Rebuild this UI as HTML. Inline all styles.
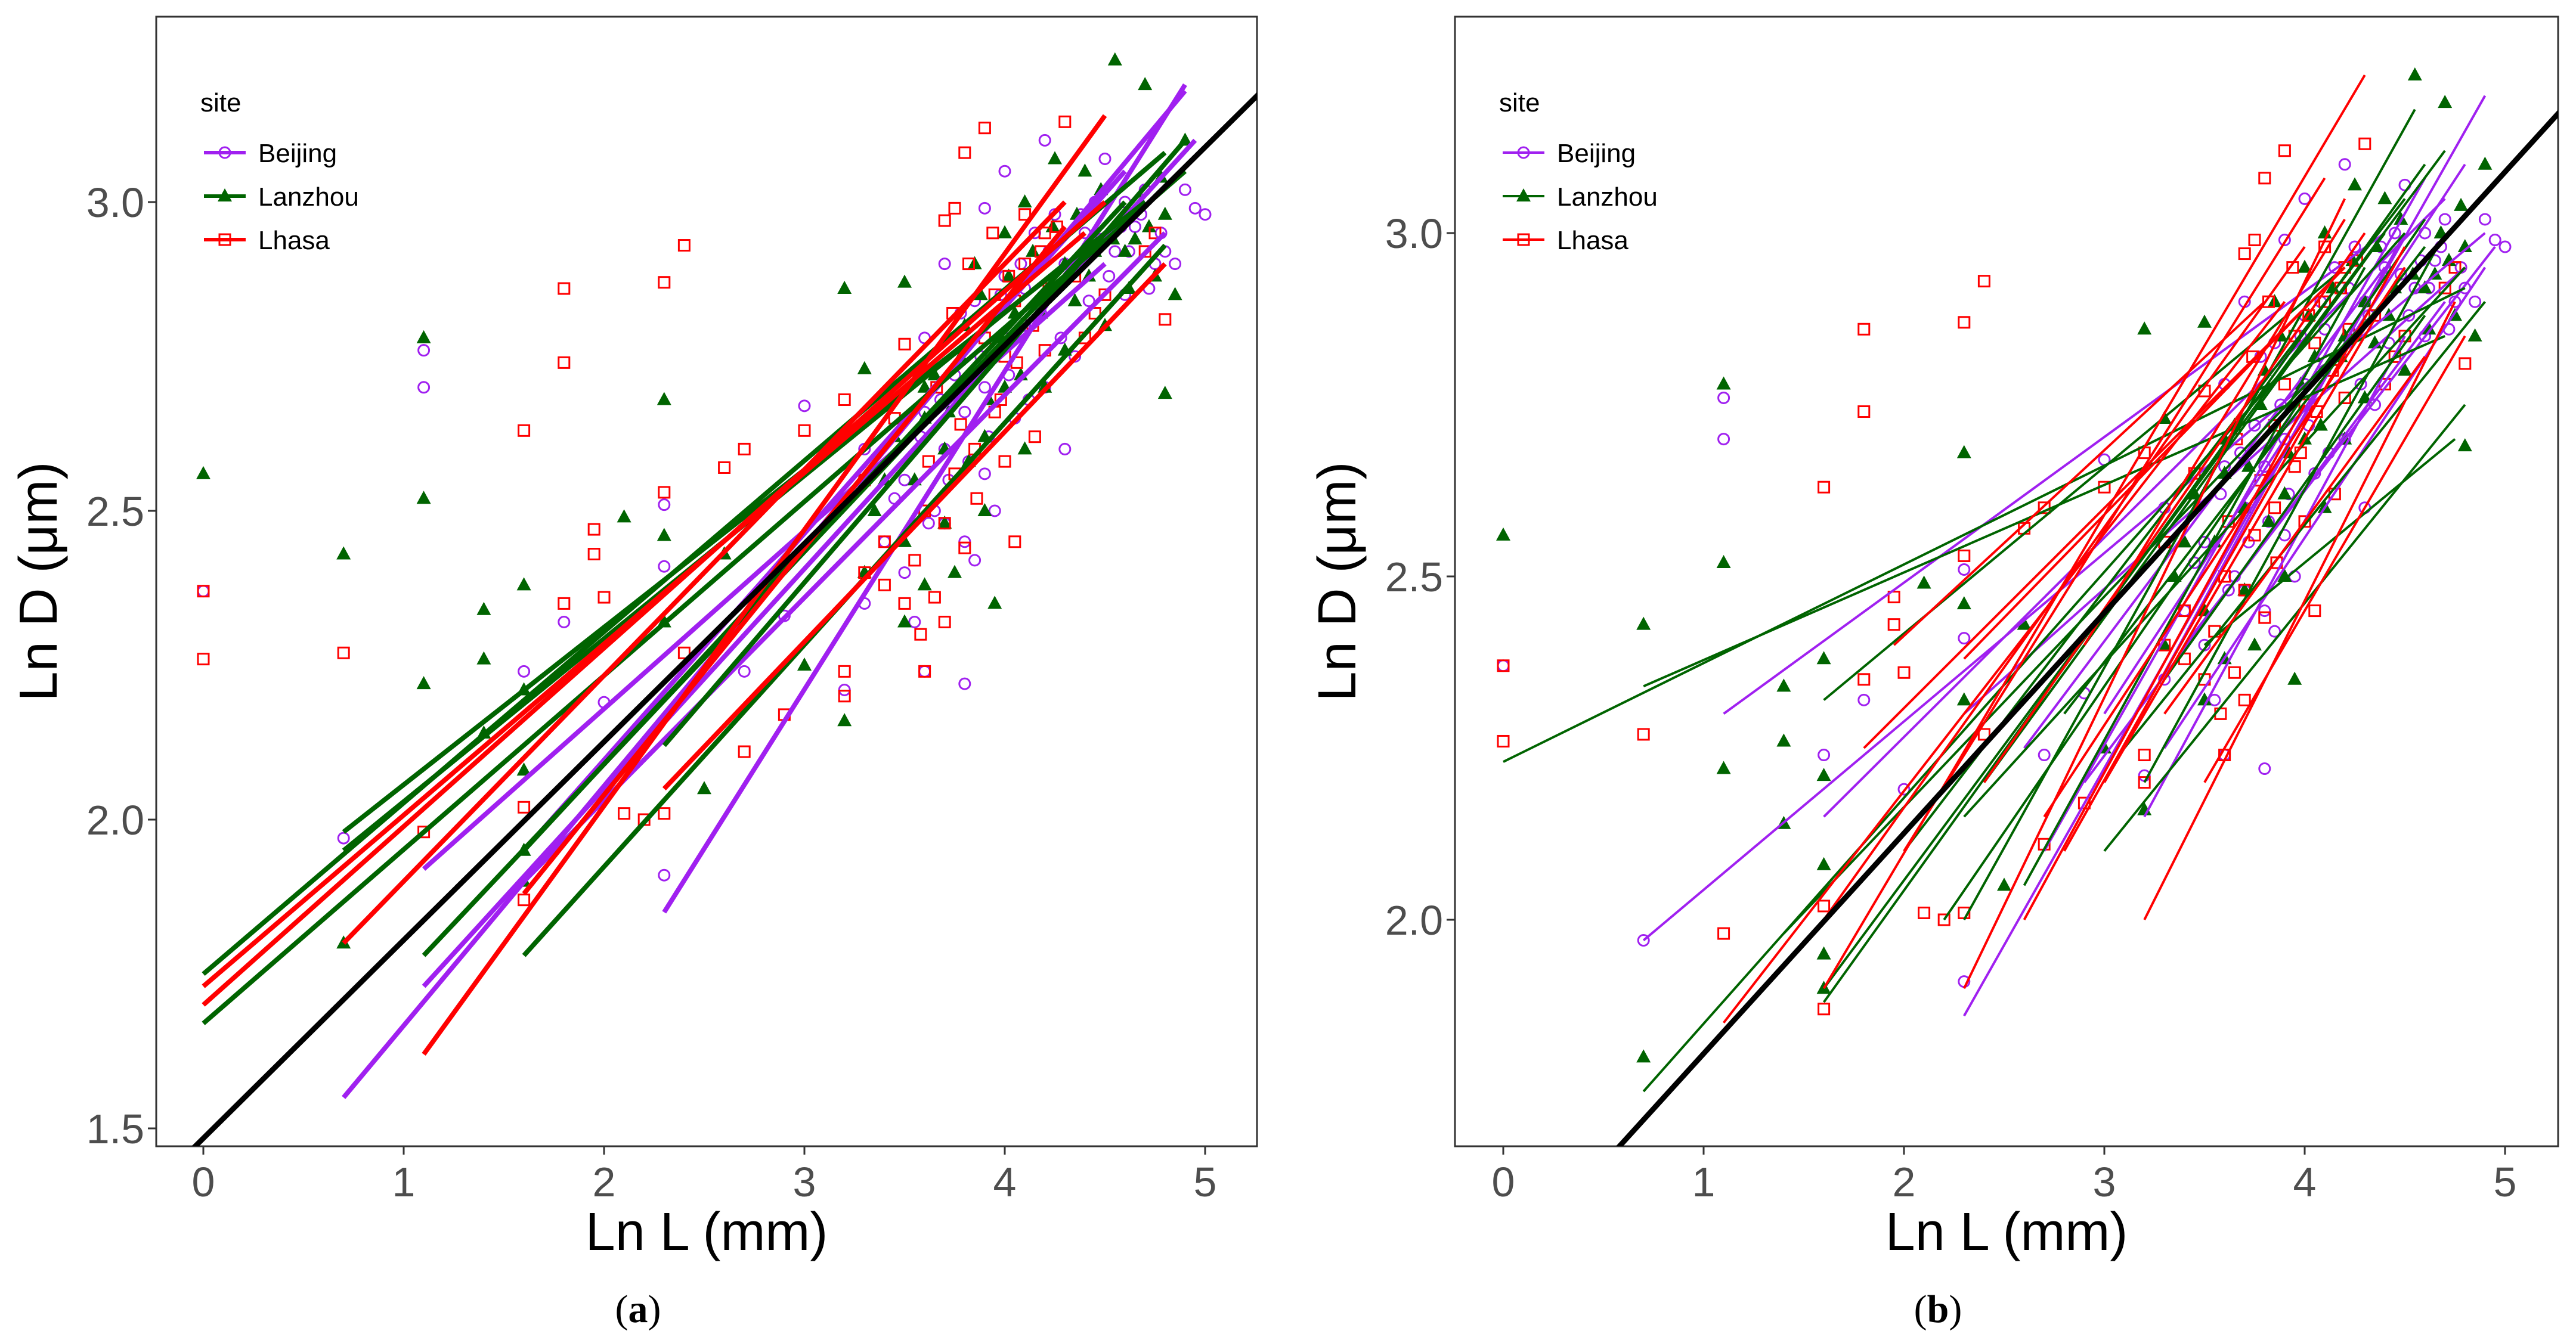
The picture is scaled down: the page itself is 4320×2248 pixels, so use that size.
<!DOCTYPE html>
<html><head><meta charset="utf-8"><style>
html,body{margin:0;padding:0;background:#fff;}
svg{display:block;font-family:"Liberation Sans",sans-serif;}
</style></head><body>
<svg id="fig" width="4320" height="2248" viewBox="0 0 4320 2248" xmlns="http://www.w3.org/2000/svg">
<defs>
<clipPath id="clipA"><rect x="262" y="28" width="1846" height="1895"/></clipPath>
<clipPath id="clipB"><rect x="2440" y="28" width="1850" height="1895"/></clipPath>
</defs>
</svg>
<script>
// ---- data (Ln L, Ln D) ----
const beijingX=[0,0.7,1.1,1.1,1.6,1.8,2.0,2.3,2.3,2.3,2.7,2.9,3.0,3.2,3.6,3.8,3.3,3.5,3.6,3.7,3.8,3.9,4.0,4.1,4.2,4.3,4.4,4.5,4.6,4.7,4.8,4.85,4.95,5.0,4.9,3.4,3.7,3.85,3.95,4.05,4.15,3.55,3.75,4.0,4.25,3.9,3.3,4.6,3.65,4.35,
 3.45,3.58,3.62,3.68,3.72,3.78,3.82,3.88,3.92,3.98,4.02,4.08,4.12,4.18,4.22,4.28,4.32,4.38,4.42,4.48,4.52,4.58,4.62,4.68,4.72,4.78,3.5,3.7,3.8,3.9,4.0,4.1,4.2,4.3,4.45,4.55,4.65,4.75,3.6,3.85];
const beijingY=[2.37,1.97,2.76,2.70,2.24,2.32,2.19,1.91,2.41,2.51,2.24,2.33,2.67,2.21,2.24,2.22,2.35,2.55,2.78,2.9,2.45,2.7,3.05,2.8,3.1,2.6,2.95,3.07,2.85,3.02,2.92,2.9,2.99,2.98,3.02,2.45,2.6,2.42,2.5,2.65,2.95,2.32,2.72,2.88,2.98,2.99,2.6,3.0,2.5,2.75,
 2.52,2.62,2.48,2.68,2.55,2.82,2.58,2.75,2.62,2.85,2.72,2.9,2.68,2.82,2.92,2.78,2.88,2.98,2.84,2.94,2.88,2.96,2.92,2.98,2.86,2.95,2.4,2.48,2.66,2.56,2.78,2.86,2.7,2.9,3.0,2.92,2.96,2.9,2.66,2.84];
const lanzhouX=[0,0.7,0.7,1.1,1.1,1.1,1.4,1.4,1.4,1.6,1.6,1.6,1.6,1.6,2.1,2.3,2.3,2.3,2.5,2.6,3.0,3.2,3.2,3.3,3.5,3.5,3.6,3.7,3.8,3.9,4.0,4.0,4.1,4.2,4.3,4.4,4.55,4.6,4.7,4.75,4.8,4.85,4.9,4.8,3.85,4.1,3.6,3.4,3.95,4.5,3.75,4.25,
 3.35,3.45,3.55,3.65,3.72,3.78,3.82,3.88,3.92,3.98,4.02,4.08,4.14,4.18,4.24,4.3,4.36,4.42,4.48,4.54,4.62,4.68,4.72,4.78,3.5,3.7,3.9,4.05,4.2,4.35,4.45,4.65,3.3,3.6];
const lanzhouY=[2.56,2.43,1.80,2.78,2.52,2.22,2.34,2.26,2.14,2.38,2.21,2.08,1.95,1.90,2.49,2.68,2.46,2.32,2.05,2.43,2.25,2.86,2.16,2.73,2.87,2.45,2.38,2.6,2.8,2.5,2.95,2.7,3.0,2.85,2.9,3.05,3.23,2.92,3.19,2.88,2.69,2.85,3.1,2.98,2.9,2.6,2.65,2.55,2.35,2.8,2.4,3.07,
 2.5,2.62,2.55,2.72,2.66,2.75,2.58,2.85,2.68,2.78,2.88,2.72,2.92,2.82,2.96,2.76,2.98,2.88,3.02,2.94,2.86,3.0,2.96,3.04,2.32,2.48,2.62,2.82,2.7,2.84,2.92,2.94,2.4,2.7];
const lhasaX=[0,0,0.7,1.1,1.6,1.6,1.6,1.8,1.8,1.8,1.95,1.95,2.0,2.1,2.2,2.3,2.3,2.3,2.4,2.4,2.6,2.7,2.7,2.9,3.0,3.2,3.2,3.2,3.3,3.4,3.5,3.5,3.6,3.7,3.7,3.75,3.8,3.85,3.9,4.0,4.05,4.1,4.2,4.3,4.4,4.5,4.7,4.8,4.75,3.6,3.95,4.15,3.45,
 3.55,3.62,3.66,3.7,3.74,3.78,3.82,3.86,3.9,3.94,3.98,4.02,4.06,4.1,4.14,4.18,4.22,4.26,3.65,3.75,3.85,3.95,4.05,3.58,3.8,4.0,4.2,4.35,4.45,3.4,3.3];
const lhasaY=[2.37,2.26,2.27,1.98,2.63,2.02,1.87,2.86,2.74,2.35,2.47,2.43,2.36,2.01,2.00,2.87,2.53,2.01,2.93,2.27,2.57,2.6,2.11,2.17,2.63,2.68,2.24,2.20,2.55,2.45,2.77,2.35,2.24,2.32,2.97,2.99,3.08,2.6,3.12,2.75,2.45,2.9,2.95,3.13,2.78,2.85,2.92,2.81,2.95,2.5,2.85,2.62,2.65,
 2.42,2.58,2.7,2.48,2.82,2.64,2.9,2.52,2.78,2.95,2.68,2.88,2.74,2.98,2.8,2.92,2.86,2.96,2.36,2.56,2.72,2.66,2.84,2.3,2.44,2.58,2.76,2.88,2.82,2.38,2.4];
// fitted lines [x1,y1,x2,y2]
const fitA_beijing=[[0.7,1.55,4.9,3.18],[1.1,1.73,4.95,3.1],[1.6,1.95,4.6,3.05],[2.3,1.85,4.9,3.19],[1.1,1.92,4.5,2.9],[1.6,1.9,4.8,2.95]];
const fitA_lanzhou=[[0,1.75,4.8,3.08],[0,1.67,4.9,3.05],[0.7,1.98,4.7,3.0],[1.1,1.78,4.5,2.95],[1.6,1.78,4.8,2.93],[1.6,1.95,4.6,3.0],[2.3,2.12,4.9,3.1],[0.7,1.95,4.3,2.9]];
const fitA_lhasa=[[0,1.70,4.5,3.0],[0,1.73,4.4,2.95],[0.7,1.80,4.3,3.0],[1.1,1.62,4.5,3.14],[1.6,1.88,4.3,2.96],[2.3,2.05,4.8,2.9]];
const fitB_beijing=[[0.7,1.97,4.9,3.0],[1.1,2.3,4.4,3.0],[1.6,2.15,4.7,3.05],[2.3,1.86,4.9,3.2],[2.3,2.3,4.8,2.95],[2.7,2.1,4.6,3.08],[3.0,2.2,4.5,3.0],[3.2,2.15,4.5,2.85],[2.9,2.2,4.7,2.9],[3.3,2.25,4.9,2.95],[3.0,2.3,4.8,3.1],[3.4,2.4,4.95,2.98],[2.6,2.25,4.4,2.95]];
const fitB_lanzhou=[[0,2.23,4.8,2.92],[0.7,2.34,4.7,2.85],[0.7,1.75,4.5,3.0],[1.4,1.98,4.4,2.9],[1.6,1.88,4.6,3.1],[1.6,2.32,4.2,2.95],[2.3,2.0,4.55,3.18],[2.3,2.15,4.8,2.95],[2.6,2.05,4.3,2.95],[3.0,2.1,4.8,2.75],[3.2,2.2,4.7,3.0],[2.8,2.3,4.6,2.98],[3.3,2.35,4.6,2.88],[3.5,2.4,4.75,2.7],[1.6,1.9,4.7,3.12],[2.0,2.1,4.5,3.05],[2.4,2.2,4.4,3.0],[3.1,2.25,4.9,2.9],[2.2,2.0,4.6,3.02]];
const fitB_lhasa=[[1.1,1.85,3.9,2.9],[1.6,1.9,4.3,3.23],[1.8,2.25,4.1,2.92],[1.95,2.4,3.8,2.9],[2.3,1.9,4.2,3.05],[2.3,2.38,4.2,2.95],[2.6,2.0,4.0,2.75],[2.7,2.15,4.5,2.95],[3.0,2.2,4.4,2.9],[3.2,2.0,4.75,2.9],[3.5,2.2,4.8,2.85],[2.9,2.4,4.2,3.02],[3.3,2.3,4.6,2.82],[2.0,2.1,4.1,3.08],[2.4,2.2,4.3,3.0],[2.8,2.1,4.5,2.98],[1.6,2.0,4.0,2.98]];
const blackFit=[1.484,0.321]; // intercept, slope
const xTicks=[0,1,2,3,4,5];
const yTicksA=[1.5,2.0,2.5,3.0];
const yTicksB=[2.0,2.5,3.0];

const NS='http://www.w3.org/2000/svg';
const svg=document.getElementById('fig');
const COL={Beijing:'#a020f0',Lanzhou:'#006400',Lhasa:'#ff0000'};
function mk(tag,attrs,parent){const e=document.createElementNS(NS,tag);for(const k in attrs)e.setAttribute(k,attrs[k]);(parent||svg).appendChild(e);return e;}

function marker(g,site,cx,cy){
  let e;
  if(site==='Beijing'){e=mk('circle',{cx:cx,cy:cy,r:9,fill:'none',stroke:COL[site],'stroke-width':3},g);}
  else if(site==='Lanzhou'){e=mk('polygon',{points:`${cx},${cy-13} ${cx-12},${cy+9} ${cx+12},${cy+9}`,fill:COL[site]},g);}
  else {e=mk('rect',{x:cx-9,y:cy-9,width:18,height:18,fill:'none',stroke:COL[site],'stroke-width':3},g);}
  return e;
}

function panel(cfg){
  const sx=v=>cfg.x0+v*cfg.kx, sy=v=>cfg.y0-(v-cfg.yref)*cfg.ky;
  const P=mk('g',{});
  
  
  const box=mk('rect',{x:cfg.L,y:cfg.T,width:cfg.R-cfg.L,height:cfg.B-cfg.T,fill:'#fff',stroke:'#333','stroke-width':3},P);
  
  
  const g=mk('g',{'clip-path':`url(#${cfg.clip})`},P);
  const sites=[['Beijing',beijingX,beijingY],['Lanzhou',lanzhouX,lanzhouY],['Lhasa',lhasaX,lhasaY]];
  sites.forEach(([s,xs,ys])=>{
    const mg=mk('g',{},g);
    
    
    xs.forEach((x,i)=>{const m=marker(mg,s,sx(x),sy(ys[i]));
      
      });
  });
  cfg.fits.forEach(([s,arr])=>{
    arr.forEach(f=>{const l=mk('line',{x1:sx(f[0]),y1:sy(f[1]),x2:sx(f[2]),y2:sy(f[3]),stroke:COL[s],'stroke-width':cfg.lw,'stroke-linecap':'butt'},g);
      
      });
  });
  const bx1=-0.3,bx2=5.4;
  const bl=mk('line',{x1:sx(bx1),y1:sy(blackFit[0]+blackFit[1]*bx1),x2:sx(bx2),y2:sy(blackFit[0]+blackFit[1]*bx2),stroke:'#000','stroke-width':9},g);
  
  
  xTicks.forEach(t=>{
    const tk=mk('line',{x1:sx(t),y1:cfg.B,x2:sx(t),y2:cfg.B+14,stroke:'#333','stroke-width':3},P);
    
    
    const tl=mk('text',{x:sx(t),y:cfg.B+84,'text-anchor':'middle','font-size':70,fill:'#4d4d4d'},P);
    tl.textContent=t;
    
    
  });
  cfg.yt.forEach(t=>{
    const tk=mk('line',{x1:cfg.L-14,y1:sy(t),x2:cfg.L,y2:sy(t),stroke:'#333','stroke-width':3},P);
    
    
    const tl=mk('text',{x:cfg.L-20,y:sy(t)+25,'text-anchor':'end','font-size':70,fill:'#4d4d4d'},P);
    tl.textContent=t.toFixed(1);
    
    
  });
  const xt=mk('text',{x:(cfg.L+cfg.R)/2,y:2097,'text-anchor':'middle','font-size':90,fill:'#000'},P);
  xt.textContent='Ln L (mm)';
  
  
  const yt=mk('text',{x:0,y:0,'text-anchor':'middle','font-size':90,fill:'#000',transform:`translate(${cfg.L-167},${(cfg.T+cfg.B)/2}) rotate(-90)`},P);
  yt.textContent='Ln D (μm)';
  
  
  const cap=mk('text',{x:(cfg.L+cfg.R)/2-115,y:2218,'text-anchor':'middle','font-size':66,'font-family':'"Liberation Serif",serif',fill:'#000'},P);
  cap.innerHTML='(<tspan font-weight="bold">'+cfg.cap+'</tspan>)';
  
  
  // legend
  const lg=mk('g',{},P);
  
  
  const lx=cfg.L+74;
  const lt=mk('text',{x:lx,y:187,'font-size':44,fill:'#000'},lg);
  lt.textContent='site';
  
  
  ['Beijing','Lanzhou','Lhasa'].forEach((s,i)=>{
    const cy=256+i*73;
    const eg=mk('g',{},lg);
    
    
    mk('line',{x1:lx+6,y1:cy,x2:lx+76,y2:cy,stroke:COL[s],'stroke-width':cfg.legLw},eg);
    marker(eg,s,lx+41,cy);
    const tx=mk('text',{x:lx+97,y:cy+16,'font-size':44,fill:'#000'},eg);
    tx.textContent=s;
  });
}
panel({name:'panel-a',L:262,R:2108,T:28,B:1923,x0:341,kx:336,y0:1893,yref:1.5,ky:1036,clip:'clipA',yt:yTicksA,lw:8,legLw:6,cap:'a',
  fits:[['Beijing',fitA_beijing],['Lanzhou',fitA_lanzhou],['Lhasa',fitA_lhasa]]});
panel({name:'panel-b',L:2440,R:4290,T:28,B:1923,x0:2521,kx:336,y0:1543,yref:2.0,ky:1152,clip:'clipB',yt:yTicksB,lw:4,legLw:4,cap:'b',
  fits:[['Beijing',fitB_beijing],['Lanzhou',fitB_lanzhou],['Lhasa',fitB_lhasa]]});
</script>
</body></html>
